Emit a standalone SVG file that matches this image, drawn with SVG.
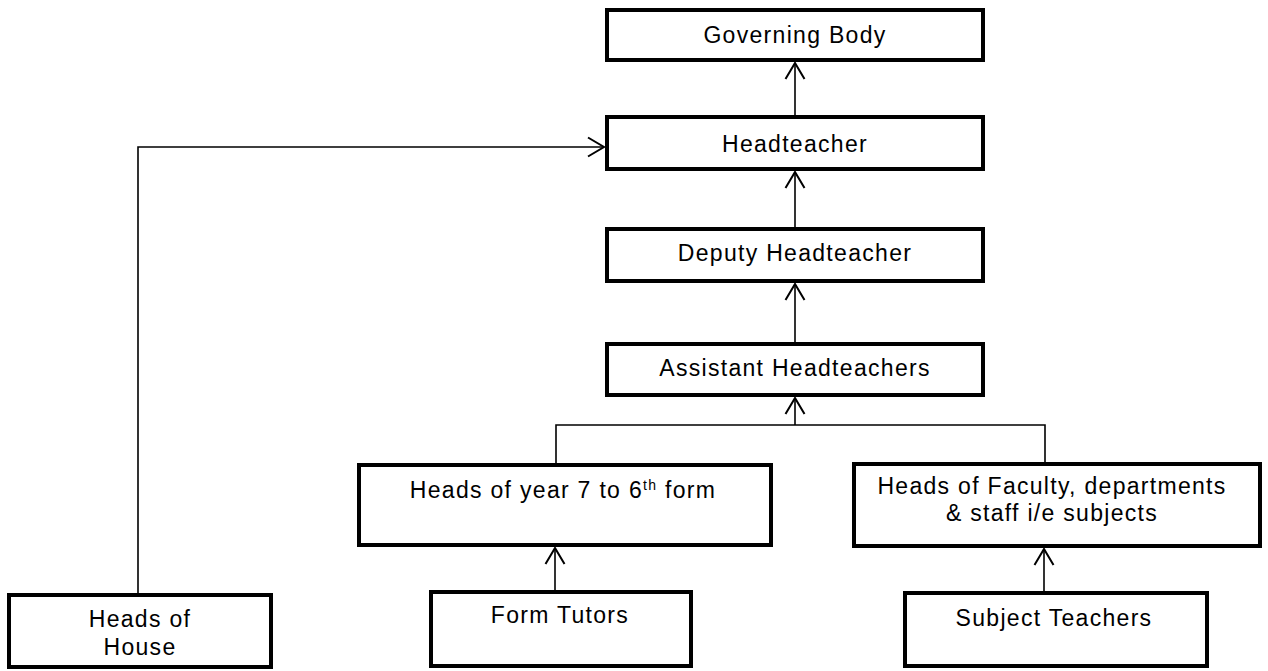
<svg xmlns="http://www.w3.org/2000/svg" width="1268" height="671" viewBox="0 0 1268 671">
<style>
.box{fill:#fff;stroke:#000;stroke-width:4}
.lbl{font-family:"Liberation Sans",Arial,sans-serif;font-size:23px;letter-spacing:1.3px;fill:#000;text-anchor:middle}
.con{fill:none;stroke:#000;stroke-width:1.6}
</style>
<defs>
<marker id="arr" markerUnits="userSpaceOnUse" markerWidth="24" markerHeight="24" viewBox="-20 -12 24 24" refX="0" refY="0" orient="auto" overflow="visible">
<path d="M-16,-9.5 L0,0 L-16,9.5" fill="none" stroke="#000" stroke-width="2"/>
</marker>
</defs>
<rect width="1268" height="671" fill="#fff"/>
<g id="connectors">
<line class="con" x1="795" y1="115" x2="795" y2="63" marker-end="url(#arr)"/>
<line class="con" x1="795" y1="227" x2="795" y2="172" marker-end="url(#arr)"/>
<line class="con" x1="795" y1="342" x2="795" y2="284" marker-end="url(#arr)"/>
<path class="con" d="M556,463 V425 H1045 V462"/>
<line class="con" x1="795" y1="425" x2="795" y2="398" marker-end="url(#arr)"/>
<line class="con" x1="555" y1="590" x2="555" y2="548" marker-end="url(#arr)"/>
<line class="con" x1="1044" y1="591" x2="1044" y2="549" marker-end="url(#arr)"/>
<path class="con" d="M138,593 V147 H604" marker-end="url(#arr)"/>
</g>
<g id="governing-body">
<rect class="box" x="607" y="10" width="376" height="50"/>
<text class="lbl" x="795" y="43">Governing Body</text>
</g>
<g id="headteacher">
<rect class="box" x="607" y="117" width="376" height="52"/>
<text class="lbl" x="795" y="152">Headteacher</text>
</g>
<g id="deputy-headteacher">
<rect class="box" x="607" y="229" width="376" height="52"/>
<text class="lbl" x="795" y="261">Deputy Headteacher</text>
</g>
<g id="assistant-headteachers">
<rect class="box" x="607" y="344" width="376" height="51"/>
<text class="lbl" x="795" y="376">Assistant Headteachers</text>
</g>
<g id="heads-of-year">
<rect class="box" x="359" y="465" width="412" height="80"/>
<text class="lbl" x="563" y="498">Heads of year 7 to 6<tspan font-size="14" dy="-8">th</tspan><tspan dy="8"> form</tspan></text>
</g>
<g id="heads-of-faculty">
<rect class="box" x="854" y="464" width="406" height="82"/>
<text class="lbl" x="1052" y="494">Heads of Faculty, departments</text>
<text class="lbl" x="1052" y="521">&amp; staff i/e subjects</text>
</g>
<g id="heads-of-house">
<rect class="box" x="9" y="595" width="262" height="72"/>
<text class="lbl" x="140" y="627">Heads of</text>
<text class="lbl" x="140" y="655">House</text>
</g>
<g id="form-tutors">
<rect class="box" x="431" y="592" width="260" height="74"/>
<text class="lbl" x="560" y="623">Form Tutors</text>
</g>
<g id="subject-teachers">
<rect class="box" x="905" y="593" width="302" height="73"/>
<text class="lbl" x="1054" y="626">Subject Teachers</text>
</g>
</svg>
